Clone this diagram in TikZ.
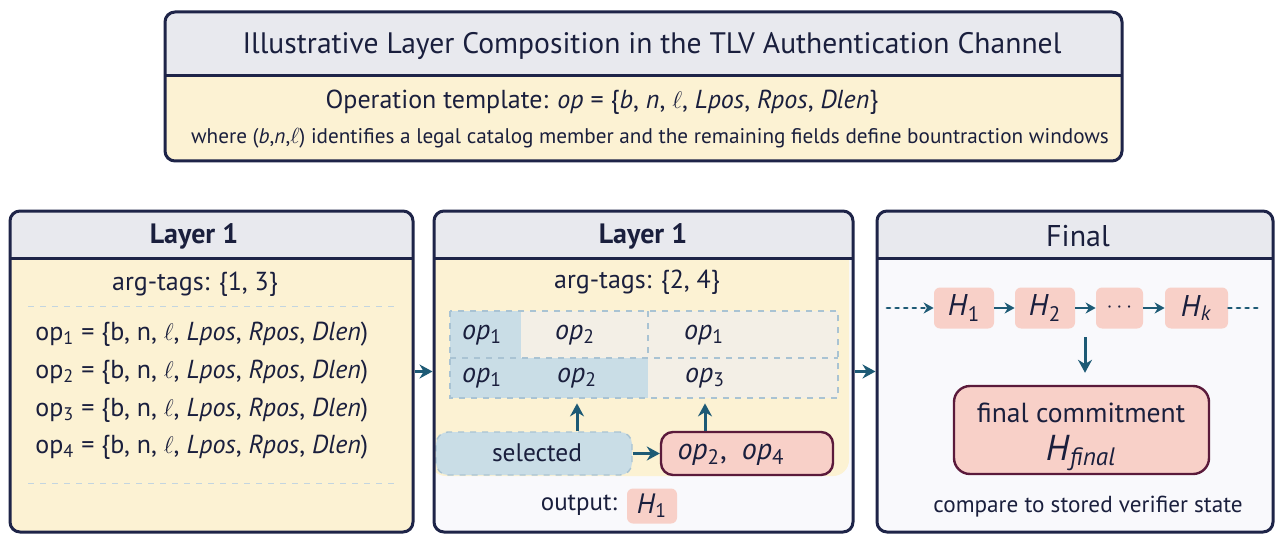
\documentclass[tikz,border=0pt]{standalone}
\usepackage{fontspec}
\setmainfont{PT Sans}
\usetikzlibrary{arrows.meta,fit,calc}
\definecolor{navy}{HTML}{1E2448}
\definecolor{ink}{HTML}{1A1F3D}
\definecolor{hdr}{HTML}{E8E9EE}
\definecolor{yel}{HTML}{FCF2D3}
\definecolor{tealc}{HTML}{1D5A75}
\definecolor{pinkf}{HTML}{F8D0C8}
\definecolor{maroonc}{HTML}{5B1A3B}
\definecolor{bluef}{HTML}{C9DDE6}
\definecolor{beige}{HTML}{F3EFE6}
\definecolor{paper}{HTML}{F9F9FC}
\definecolor{dashc}{HTML}{A9C3D3}
\tikzset{
  frame/.style={draw=navy, line width=1.5pt, rounded corners=5pt, inner sep=0pt},
  sepline/.style={navy, line width=1.5pt},
  arr/.style={tealc, line width=1.5pt, -{Stealth[length=6.5pt,width=7pt]}},
  sarr/.style={tealc, line width=1.4pt, -{Stealth[length=5pt,width=5.5pt]}},
  dotline/.style={line cap=round, dash pattern=on 1.5pt off 2.8pt},
  txt/.style={text=ink, inner sep=1pt},
  hbox/.style={fill=pinkf, rounded corners=3pt, inner sep=0pt, text=ink},
  cell/.style={text=ink, inner sep=1pt, font=\fontsize{14}{16}\selectfont},
  oplin/.style={text=ink, inner sep=1pt, anchor=west, font=\fontsize{13}{15}\selectfont},
}
\newcommand{\opline}[1]{op\textsubscript{#1} = \{b, n, $\ell$, \textit{Lpos}, \textit{Rpos}, \textit{Dlen})}
\begin{document}
\begin{tikzpicture}[x=0.5pt,y=-0.5pt]
\useasboundingbox[fill=white] (0,0) rectangle (1277,534);

% ---------- top box ----------
\begin{scope}
\clip[rounded corners=5pt] (165,12) rectangle (1122,161);
\fill[hdr] (165,12) rectangle (1122,76);
\fill[yel] (165,76) rectangle (1122,161);
\end{scope}
\draw[sepline] (165,76) -- (1122,76);
\node[frame, fit={(165,12)(1122,161)}] (top) {};
\node[txt, font=\fontsize{14.8}{17}\selectfont] (title) at (652,46) {Illustrative Layer Composition in the TLV Authentication Channel};
\node[txt, font=\fontsize{13}{15}\selectfont] (tmpl) at (602,102) {Operation template: \textit{op} = \{\textit{b}, \textit{n}, $\ell$, \textit{Lpos}, \textit{Rpos}, \textit{Dlen}\}};
\node[txt, font=\fontsize{10.6}{12}\selectfont] (where) at (650,138) {where (\textit{b},\textit{n},$\ell$) identifies a legal catalog member and the remaining fields define bountraction windows};

% ---------- panel 1 ----------
\begin{scope}
\clip[rounded corners=5pt] (10,211) rectangle (413,532);
\fill[hdr] (10,211) rectangle (413,258);
\fill[yel] (10,258) rectangle (413,532);
\end{scope}
\draw[sepline] (10,258) -- (413,258);
\node[frame, fit={(10,211)(413,532)}] (p1) {};
\node[txt, font=\fontsize{14}{16}\selectfont\bfseries] (p1t) at (194,236) {Layer 1};
\node[txt, font=\fontsize{13}{15}\selectfont] (p1a) at (195,284) {arg-tags: \{1, 3\}};
\draw[dashc!70, dashed, line width=0.5pt] (28,306) -- (395,306);
\draw[dashc!70, dashed, line width=0.5pt] (28,483) -- (395,483);
\node[oplin] (o1) at (33,334) {\opline{1}};
\node[oplin] (o2) at (33,372) {\opline{2}};
\node[oplin] (o3) at (33,410) {\opline{3}};
\node[oplin] (o4) at (33,447) {\opline{4}};

% ---------- panel 2 ----------
\begin{scope}
\clip[rounded corners=5pt] (434,211) rectangle (853,532);
\fill[paper] (434,211) rectangle (853,532);
\fill[yel, rounded corners=8pt] (430,230) rectangle (849,476);
\fill[hdr] (434,211) rectangle (853,258);
\end{scope}
\draw[sepline] (434,258) -- (853,258);
% grid
\fill[bluef] (450,311) rectangle (521,398);
\fill[beige] (521,311) rectangle (648,358);
\fill[bluef] (521,358) rectangle (648,398);
\fill[beige] (648,311) rectangle (838,398);
\draw[dashc, dashed, line width=0.6pt] (450,311) rectangle (838,398);
\draw[dashc, dashed, line width=0.6pt] (450,358) -- (838,358);
\draw[dashc, dashed, line width=0.6pt] (648,311) -- (648,358);
\node[inner sep=0pt, fit={(450,311)(838,398)}] (grid) {};
\node[cell] (c11) at (482,335) {\textit{op}\textsubscript{1}};
\node[cell] (c12) at (575,335) {\textit{op}\textsubscript{2}};
\node[cell] (c13) at (704,335) {\textit{op}\textsubscript{1}};
\node[cell] (c21) at (482,378) {\textit{op}\textsubscript{1}};
\node[cell] (c22) at (577,378) {\textit{op}\textsubscript{2}};
\node[cell] (c23) at (705,378) {\textit{op}\textsubscript{3}};
% selected / ops
\node[fill=bluef, draw=dashc, dashed, line width=0.7pt, rounded corners=6pt, inner sep=0pt, fit={(436,432)(632,475)}] (sel) {};
\node[txt, font=\fontsize{12.7}{15}\selectfont] (selt) at (537,453) {selected};
\node[fill=pinkf, draw=maroonc, line width=1.2pt, rounded corners=6pt, inner sep=0pt, fit={(661,432)(833,475)}] (ops) {};
\node[txt, font=\fontsize{15}{17}\selectfont] (opst) at (731,455) {\textit{op}\textsubscript{2},\enspace\textit{op}\textsubscript{4}};
\draw[arr] (sel.north -| c22) -- ($(grid.south -| c22)+(0,5)$);
\draw[arr] (ops.north -| c23) -- ($(grid.south -| c23)+(0,5)$);
\draw[arr] (sel.east) -- (ops.west);
\node[txt, font=\fontsize{12.5}{15}\selectfont] (outl) at (579,505) {output:};
\node[hbox, minimum width=25pt, minimum height=17.5pt, font=\fontsize{14}{16}\selectfont] (oh) at (652,506) {\textit{H}\textsubscript{1}};
\node[frame, fit={(434,211)(853,532)}] (p2) {};
\node[txt, font=\fontsize{14}{16}\selectfont\bfseries] (p2t) at (643,236) {Layer 1};
\node[txt, font=\fontsize{13}{15}\selectfont] (p2a) at (637,282) {arg-tags: \{2, 4\}};

% ---------- panel 3 ----------
\begin{scope}
\clip[rounded corners=5pt] (877,211) rectangle (1273,532);
\fill[hdr] (877,211) rectangle (1273,258);
\fill[paper] (877,258) rectangle (1273,532);
\end{scope}
\draw[sepline] (877,258) -- (1273,258);
\node[frame, fit={(877,211)(1273,532)}] (p3) {};
\node[txt, font=\fontsize{15}{17}\selectfont] (p3t) at (1078,236) {Final};
\node[hbox, minimum width=30pt, minimum height=20.5pt, font=\fontsize{15}{17}\selectfont] (h1) at (964,308) {\textit{H}\textsubscript{1}};
\node[hbox, minimum width=30pt, minimum height=20.5pt, font=\fontsize{15}{17}\selectfont] (h2) at (1045,308) {\textit{H}\textsubscript{2}};
\node[hbox, minimum width=23.5pt, minimum height=20.5pt, font=\fontsize{11}{13}\selectfont] (hd) at (1119.5,308) {$\cdots$};
\node[hbox, minimum width=31.5pt, minimum height=20.5pt, font=\fontsize{15}{17}\selectfont] (hk) at (1196.5,308) {\textit{H}\textsubscript{\textit{k}}};
\coordinate (cs) at (887,308);
\coordinate (ce) at (1262,308);
\draw[sarr, dotline] (cs) -- (h1.west);
\draw[sarr] (h1.east) -- (h2.west);
\draw[sarr] (h2.east) -- (hd.west);
\draw[sarr] (hd.east) -- (hk.west);
\draw[tealc, line width=1.4pt, dotline] (hk.east) -- (ce);
\node[fill=pinkf, draw=maroonc, line width=1.2pt, rounded corners=8pt, inner sep=0pt, fit={(954,386)(1209,474)}] (fin) {};
\node[txt, font=\fontsize{13.8}{16}\selectfont] (fint) at (1081,413) {final commitment};
\node[txt, font=\fontsize{18}{20}\selectfont] (finh) at (1081,453) {\textit{H}\textsubscript{\textit{final}}};
\coordinate (dn) at (1085,337);
\draw[arr, shorten >=6pt] (dn) -- (dn |- fin.north);
\node[txt, font=\fontsize{11.6}{13}\selectfont] (cmp) at (1088,507) {compare to stored verifier state};

% ---------- panel arrows ----------
\draw[arr] (p1.east) -- (p2.west);
\draw[arr] (p2.east) -- (p3.west);
\end{tikzpicture}
\end{document}
